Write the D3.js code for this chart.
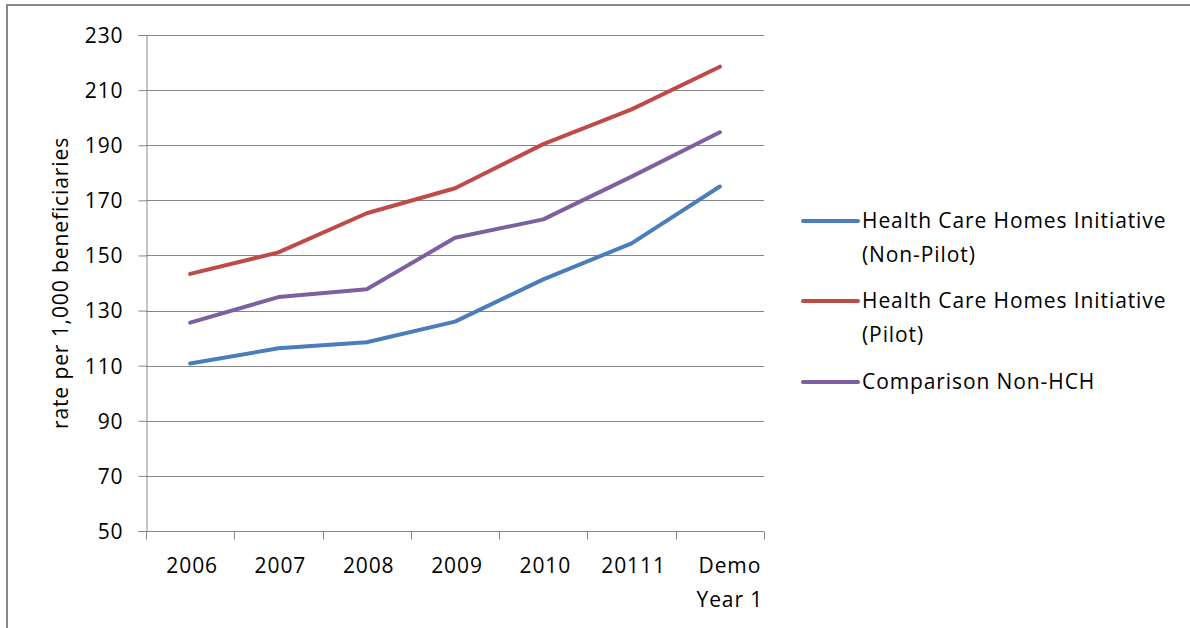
<!DOCTYPE html>
<html>
<head>
<meta charset="utf-8">
<script src="https://cdn.jsdelivr.net/npm/d3@7"></script>
<style>
  body { margin: 0; background: #fff; }
  text { font-family: "Open Sans", Lato, sans-serif; fill: #000; letter-spacing: 0.9px; }
</style>
</head>
<body>
<div id="chart"></div>
<script>
// categories and series
var categories = ["2006", "2007", "2008", "2009", "2010", "20111", "Demo Year 1"];
var nonPilot = [110.8, 116.3, 118.5, 126.0, 141.3, 154.4, 175.0];
var pilot = [143.3, 151.1, 165.3, 174.4, 190.4, 203.0, 218.5];
var comparison = [125.6, 134.9, 137.7, 156.4, 163.1, 178.6, 194.7];
var yTicks = [50, 70, 90, 110, 130, 150, 170, 190, 210, 230];

var series = [
    { name: ["Health Care Homes Initiative", "(Non-Pilot)"], values: nonPilot, color: "#4a7ebb" },
    { name: ["Health Care Homes Initiative", "(Pilot)"], values: pilot, color: "#be4b48" },
    { name: ["Comparison Non-HCH"], values: comparison, color: "#7d60a0" }
];

var width = 1190, height = 628;
var plotLeft = 146, plotRight = 764, plotTop = 35, plotBottom = 531;
var fontSize = 21;

var svg = d3.select("#chart").append("svg")
    .attr("width", width)
    .attr("height", height);

// outer frame (only top and left edges show)
svg.append("path")
    .attr("d", "M7,640 L7,5 L1200,5")
    .attr("fill", "none")
    .attr("stroke", "#888")
    .attr("stroke-width", 2);

var x = d3.scaleBand()
    .domain(categories)
    .range([plotLeft, plotRight])
    .padding(0);

var y = d3.scaleLinear()
    .domain([50, 230])
    .range([plotBottom, plotTop]);

// gridlines
svg.append("g")
    .selectAll("line")
    .data(yTicks.slice(1))
    .enter()
    .append("line")
    .attr("x1", plotLeft)
    .attr("x2", plotRight)
    .attr("y1", function (d) { return Math.round(y(d)) + 0.5; })
    .attr("y2", function (d) { return Math.round(y(d)) + 0.5; })
    .attr("stroke", "#868686")
    .attr("stroke-width", 1);

// y axis
var yAxis = svg.append("g")
    .attr("transform", "translate(" + (plotLeft + 0.5) + ",0)")
    .call(d3.axisLeft(y).tickValues(yTicks).tickSize(8).tickPadding(15));
yAxis.select(".domain").attr("stroke", "#868686");
yAxis.selectAll(".tick line").attr("stroke", "#868686");
yAxis.selectAll(".tick text")
    .attr("font-size", fontSize)
    .attr("font-family", "'Open Sans', Lato, sans-serif")
    .attr("dy", "0.35em")
    .attr("fill", "#000");

// x axis: ticks at category boundaries
var xAxisG = svg.append("g")
    .attr("transform", "translate(0," + (plotBottom + 0.5) + ")");
xAxisG.append("line")
    .attr("x1", plotLeft)
    .attr("x2", plotRight)
    .attr("stroke", "#868686");
xAxisG.selectAll(".xtick")
    .data(categories.concat(["end"]))
    .enter()
    .append("line")
    .attr("class", "xtick")
    .attr("x1", function (d, i) { return Math.round(plotLeft + i * x.bandwidth()) + 0.5; })
    .attr("x2", function (d, i) { return Math.round(plotLeft + i * x.bandwidth()) + 0.5; })
    .attr("y1", 0)
    .attr("y2", 8)
    .attr("stroke", "#868686");

var xLabels = xAxisG.selectAll(".xlabel")
    .data(categories)
    .enter()
    .append("text")
    .attr("class", "xlabel")
    .attr("text-anchor", "middle")
    .attr("font-size", fontSize)
    .attr("transform", function (d) {
        var dx = d.indexOf(" ") > 0 ? 10 : 2;
        return "translate(" + (x(d) + x.bandwidth() / 2 + dx) + ",41)";
    });
xLabels.each(function (d) {
    var t = d3.select(this);
    var parts = d === "Demo Year 1" ? ["Demo", "Year 1"] : [d];
    parts.forEach(function (p, i) {
        t.append("tspan").attr("x", 0).attr("dy", i === 0 ? 0 : 34).text(p);
    });
});

// y axis title
svg.append("text")
    .attr("transform", "translate(68," + ((plotTop + plotBottom) / 2) + ") rotate(-90)")
    .attr("text-anchor", "middle")
    .attr("font-size", fontSize)
    .text("rate per 1,000 beneficiaries");

// lines
var line = d3.line()
    .x(function (d, i) { return x(categories[i]) + x.bandwidth() / 2; })
    .y(function (d) { return y(d); });

svg.append("g")
    .selectAll("path")
    .data(series)
    .enter()
    .append("path")
    .attr("d", function (d) { return line(d.values); })
    .attr("fill", "none")
    .attr("stroke", function (d) { return d.color; })
    .attr("stroke-width", 4)
    .attr("stroke-linejoin", "round")
    .attr("stroke-linecap", "round");

// legend
var legendY = [221, 301, 382];
var legend = svg.append("g")
    .selectAll("g")
    .data(series)
    .enter()
    .append("g")
    .attr("transform", function (d, i) { return "translate(803," + legendY[i] + ")"; });

legend.append("line")
    .attr("x1", 0)
    .attr("x2", 55)
    .attr("stroke", function (d) { return d.color; })
    .attr("stroke-width", 4)
    .attr("stroke-linecap", "round");

legend.append("text")
    .attr("x", 59)
    .attr("y", 7)
    .attr("font-size", fontSize)
    .each(function (d) {
        var t = d3.select(this);
        d.name.forEach(function (p, i) {
            t.append("tspan").attr("x", 59).attr("dy", i === 0 ? 0 : 34).text(p);
        });
    });
</script>
</body>
</html>
